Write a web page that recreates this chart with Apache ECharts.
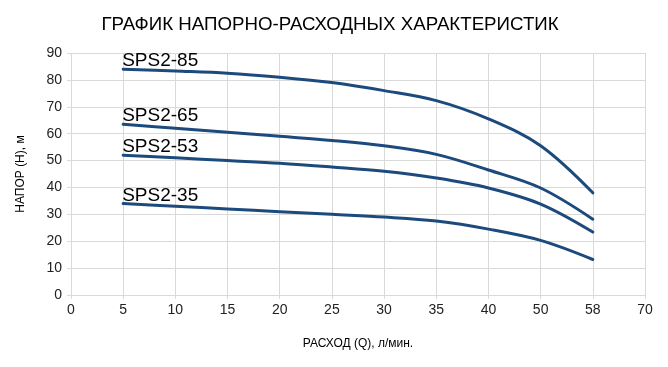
<!DOCTYPE html>
<html><head><meta charset="utf-8">
<script src="https://cdn.jsdelivr.net/npm/echarts@6/dist/echarts.min.js"></script>
<style>html,body{margin:0;padding:0;background:#fff}#c{width:668px;height:367px}</style>
</head><body><div id="c"></div>
<script>
const categories = ['0','5','10','15','20','25','30','35','40','50','58','70'];
const sps85 = [null, 84, 83.3, 82.5, 81, 79, 76, 72.3, 65.5, 55.5, 38, null];
const sps65 = [null, 63.5, 62, 60.5, 59, 57.5, 55.5, 52.3, 46.5, 39.8, 28.2, null];
const sps53 = [null, 52, 51, 50, 49, 47.6, 46, 43.5, 39.8, 33.8, 23.4, null];
const sps35 = [null, 34, 33, 32, 31, 30, 29, 27.5, 24.5, 20.3, 13.2, null];
const seriesNames = ['SPS2-85','SPS2-65','SPS2-53','SPS2-35'];
const seriesData = [sps85, sps65, sps53, sps35];
const yTicks = [0,10,20,30,40,50,60,70,80,90];

const font = '"Liberation Sans", Arial, sans-serif';
const chart = echarts.init(document.getElementById('c'));
chart.setOption({
  animation: false,
  title: {
    text: 'ГРАФИК НАПОРНО-РАСХОДНЫХ ХАРАКТЕРИСТИК',
    left: 325, top: 10, textAlign: 'center',
    textStyle: {fontFamily: font, fontWeight: 'normal', fontSize: 18.7, color: '#000'}
  },
  grid: {left: 71, right: 23, top: 53, bottom: 72},
  xAxis: {
    type: 'category', data: categories, boundaryGap: false,
    name: 'РАСХОД (Q), л/мин.', nameLocation: 'middle', nameGap: 43,
    nameTextStyle: {fontFamily: font, fontSize: 12, color: '#000'},
    axisLine: {show: true, lineStyle: {color: '#d9d9d9'}},
    axisTick: {show: true, length: 4, lineStyle: {color: '#d9d9d9'}},
    axisLabel: {fontFamily: font, fontSize: 14, color: '#222', margin: 8},
    splitLine: {show: true, lineStyle: {color: '#d9d9d9', width: 1}}
  },
  yAxis: {
    type: 'value', min: 0, max: 90, interval: 10,
    name: 'НАПОР (Н), м', nameLocation: 'middle', nameGap: 44,
    nameTextStyle: {fontFamily: font, fontSize: 12, color: '#000'},
    axisLine: {show: false},
    axisTick: {show: true, length: 4, lineStyle: {color: '#d9d9d9'}},
    axisLabel: {fontFamily: font, fontSize: 14, color: '#222', margin: 9,
      formatter: v => yTicks.includes(v) ? String(v) : ''},
    splitLine: {show: true, lineStyle: {color: '#d9d9d9', width: 1}}
  },
  series: seriesData.map((d, i) => ({
    name: seriesNames[i], type: 'line', data: d, smooth: 0.35,
    showSymbol: false, symbol: 'none',
    lineStyle: {color: '#1d4a7c', width: 3, cap: 'round'},
    markPoint: {
      symbol: 'circle', symbolSize: 0,
      data: [{coord: ['5', d[1]], value: seriesNames[i]}],
      label: {show: true, position: 'right', formatter: seriesNames[i], offset: [-6, -8],
        fontFamily: font, fontSize: 19, color: '#000'}
    }
  }))
});
</script></body></html>
